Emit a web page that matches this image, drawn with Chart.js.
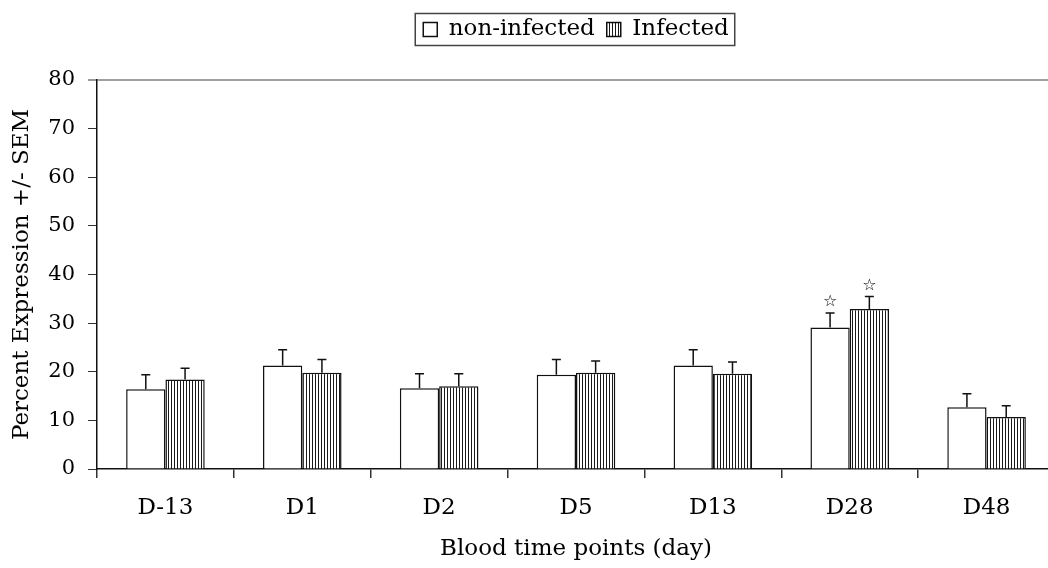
<!DOCTYPE html>
<html>
<head>
<meta charset="utf-8">
<script src="https://cdn.jsdelivr.net/npm/chart.js@4.4.0/dist/chart.umd.min.js"></script>
<style>
html, body { margin: 0; padding: 0; background: #fff; overflow: hidden; }
#wrap { width: 1056px; height: 568px; }
</style>
</head>
<body>
<div id="wrap"><canvas id="chart" width="1056" height="568"></canvas></div>
<script>
const days = ['D-13', 'D1', 'D2', 'D5', 'D13', 'D28', 'D48'];
const nonInfected = [16.4, 21.3, 16.6, 19.4, 21.3, 29.1, 12.7];
const infected = [18.4, 19.8, 17.0, 19.8, 19.6, 32.9, 10.7];
const nonInfectedSem = [3.0, 3.2, 3.0, 3.1, 3.2, 3.0, 2.8];
const infectedSem = [2.3, 2.7, 2.6, 2.4, 2.4, 2.6, 2.3];
const nonInfectedStar = [false, false, false, false, false, true, false];
const infectedStar = [false, false, false, false, false, true, false];
const yMin = 0, yMax = 80, yStep = 10;

const serif = "'DejaVu Serif', serif";

// vertical stripe fill for the infected bars
function stripes() {
  const c = document.createElement('canvas');
  c.width = 3; c.height = 4;
  const g = c.getContext('2d');
  g.fillStyle = '#fff';
  g.fillRect(0, 0, 3, 4);
  g.fillStyle = '#1a1a1a';
  g.fillRect(0, 0, 1, 4);
  return g.createPattern(c, 'repeat');
}

const errorBars = {
  id: 'errorBars',
  afterDatasetsDraw(chart) {
    const ctx = chart.ctx;
    const y = chart.scales.y;
    chart.data.datasets.forEach((ds, i) => {
      chart.getDatasetMeta(i).data.forEach((bar, j) => {
        const top = y.getPixelForValue(ds.data[j] + ds.sem[j]);
        ctx.save();
        ctx.strokeStyle = '#111';
        ctx.lineWidth = 1.5;
        ctx.beginPath();
        ctx.moveTo(bar.x, bar.y);
        ctx.lineTo(bar.x, top);
        ctx.moveTo(bar.x - 4.5, top);
        ctx.lineTo(bar.x + 4.5, top);
        ctx.stroke();
        if (ds.star[j]) {
          ctx.font = "16px 'DejaVu Sans'";
          ctx.textAlign = 'center';
          ctx.textBaseline = 'middle';
          ctx.fillStyle = '#000';
          ctx.fillText('\u2606', bar.x, top - 11);
        }
        ctx.restore();
      });
    });
  }
};

// legend: more room under it, centred over the plot area, framed
const legendBox = {
  id: 'legendBox',
  beforeInit(chart) {
    const fit = chart.legend.fit;
    chart.legend.fit = function () { fit.call(this); this.height += 29; };
  },
  afterLayout(chart) {
    const lg = chart.legend;
    lg.left = chart.chartArea.left;
    lg.right = chart.chartArea.right;
    lg.width = lg.right - lg.left;
  },
  afterDraw(chart) {
    const hb = chart.legend.legendHitBoxes;
    if (!hb || !hb.length) return;
    const last = hb[hb.length - 1];
    const l = hb[0].left - 8, r = last.left + last.width + 6;
    const cy = hb[0].top + hb[0].height / 2;
    const ctx = chart.ctx;
    ctx.save();
    ctx.strokeStyle = '#444';
    ctx.lineWidth = 1.5;
    ctx.strokeRect(l, cy - 16, r - l, 32);
    ctx.restore();
  }
};

new Chart(document.getElementById('chart'), {
  type: 'bar',
  data: {
    labels: days,
    datasets: [
      { label: 'non-infected', data: nonInfected, sem: nonInfectedSem, star: nonInfectedStar,
        backgroundColor: '#fff', borderColor: '#111', borderWidth: 1.5 },
      { label: 'Infected', data: infected, sem: infectedSem, star: infectedStar,
        backgroundColor: stripes(), borderColor: '#111', borderWidth: 1.5 }
    ]
  },
  options: {
    responsive: false,
    devicePixelRatio: 1,
    animation: false,
    layout: { padding: { top: 6, right: 1, bottom: 0, left: 0 } },
    datasets: { bar: { categoryPercentage: 0.574, barPercentage: 1 } },
    plugins: {
      tooltip: { enabled: false },
      legend: {
        position: 'top',
        labels: { color: '#000', font: { family: serif, size: 23 }, boxWidth: 14, boxHeight: 14, padding: 12 }
      }
    },
    scales: {
      x: {
        afterFit: s => { s.height = 99; },
        grid: { drawOnChartArea: false, tickLength: 9, color: '#333', lineWidth: 1.5 },
        border: { color: '#111', width: 1.5 },
        ticks: { color: '#000', font: { family: serif, size: 23 }, padding: 16, maxRotation: 0 },
        title: { display: true, text: 'Blood time points (day)', color: '#000',
          font: { family: serif, size: 23 }, padding: { top: 0, bottom: 5 } }
      },
      y: {
        min: yMin, max: yMax,
        afterFit: s => { s.width = 97; },
        grid: {
          color: c => c.tick && c.tick.value === yMax ? '#a0a0a0' : 'rgba(0,0,0,0)',
          lineWidth: c => c.tick && c.tick.value === yMax ? 2 : 1,
          tickColor: c => c.tick && c.tick.value === yMax ? '#999' : '#333',
          tickLength: 9
        },
        border: { color: '#111', width: 1.5 },
        ticks: { stepSize: yStep, color: '#000', font: { family: serif, size: 21 }, padding: 13 },
        title: { display: true, text: 'Percent Expression +/- SEM', color: '#000',
          font: { family: serif, size: 23 }, padding: { top: 8, bottom: 0 } }
      }
    }
  },
  plugins: [errorBars, legendBox]
});
</script>
</body>
</html>
